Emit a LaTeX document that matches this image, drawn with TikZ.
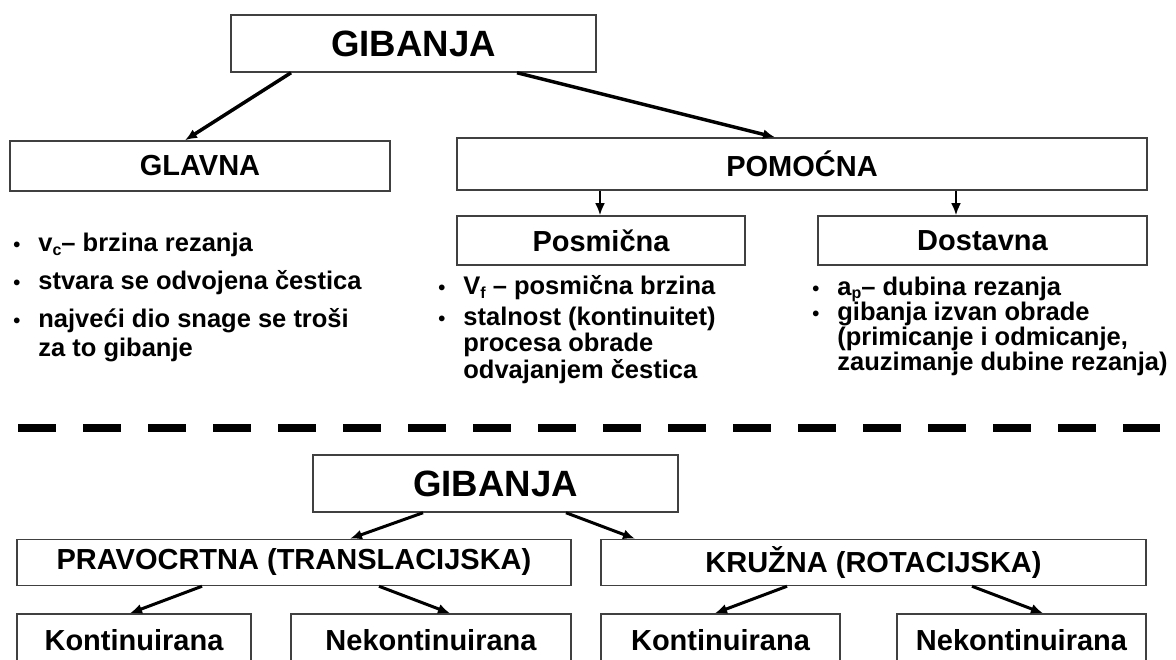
\documentclass[tikz,border=0pt]{standalone}
\usepackage{fontspec}
\setmainfont{Liberation Sans}
\usetikzlibrary{arrows.meta}

\newcommand{\blt}{\llap{{\fontsize{20}{20}\selectfont\textbullet}\hspace{18pt}}}
\newcommand{\ind}[2][-4pt]{\raisebox{#1}{\fontsize{16}{16}\selectfont #2}}

\begin{document}
\begin{tikzpicture}[x=1pt, y=-1pt, thick,
		box/.style={draw=black!75, line width=1.5pt, inner sep=0pt, font=\bfseries\fontsize{29}{34}\selectfont},
		item/.style={anchor=base west, inner sep=0pt, font=\bfseries\fontsize{25.5}{30}\selectfont},
		arr/.style={-{Latex[length=12pt,width=10pt]}, line width=3.5pt}]
	\useasboundingbox (0,0) rectangle (1176,660);
	\clip (0,0) rectangle (1176,660);

	% gornji dio
	\node[box, minimum width=365pt, minimum height=57pt] (gib) at (413.5,43.5) {\fontsize{36.6}{40}\selectfont GIBANJA};
	\node[box, minimum width=380pt, minimum height=50pt] (glavna) at (200,166) {GLAVNA};
	\node[box, minimum width=690pt, minimum height=52pt] (pomocna) at (802,164) {POMOĆNA};
	\node[box, minimum width=288pt, minimum height=49pt] (posmicna) at (601,240.5) {Posmična};
	\node[box, minimum width=329pt, minimum height=49pt] (dostavna) at (982.5,240.5) {Dostavna};

	\draw[arr] ([xshift=-122.5pt]gib.south) -- ([xshift=-15pt]glavna.north);
	\draw[arr] ([xshift=103.5pt]gib.south) -- ([xshift=-27pt]pomocna.north);
	\draw[arr, line width=2.5pt] ([xshift=-202pt]pomocna.south) -- ([xshift=-1pt]posmicna.north);
	\draw[arr, line width=2.5pt] ([xshift=154pt]pomocna.south) -- ([xshift=-26.5pt]dostavna.north);

	\node[item] (v1) at (38,252) {\blt v\ind{c}– brzina rezanja};
	\node[item] (v2) at (38,290) {\blt stvara se odvojena čestica};
	\node[item] (v3) at (38,328) {\blt najveći dio snage se troši};
	\node[item] (v4) at (38,357) {za to gibanje};

	\node[item] (p1) at (463,295) {\blt V\ind{f} – posmična brzina};
	\node[item] (p2) at (463,326) {\blt stalnost (kontinuitet)};
	\node[item] (p3) at (463,352) {procesa obrade};
	\node[item] (p4) at (463,378) {odvajanjem čestica};

	\node[item] (d1) at (837,296) {\blt a\ind[-2.5pt]{p}– dubina rezanja};
	\node[item] (d2) at (837,321) {\blt gibanja izvan obrade};
	\node[item] (d3) at (837,346) {(primicanje i odmicanje,};
	\node[item] (d4) at (837,371) {zauzimanje dubine rezanja)};

	\draw[line width=8pt, dash pattern=on 38pt off 27pt] (18,428) -- (1160,428);

	% donji dio
	\node[box, minimum width=365pt, minimum height=57pt] (gib2) at (495.5,483.5) {\fontsize{36.6}{40}\selectfont GIBANJA};
	\node[box, minimum width=554pt, minimum height=46pt] (pravo) at (294,562.5) {PRAVOCRTNA (TRANSLACIJSKA)};
	\node[box, minimum width=545pt, minimum height=46pt] (kruzna) at (873.5,562.5) {KRUŽNA (ROTACIJSKA)};
	\node[box, minimum width=234pt, minimum height=52pt] (kont1) at (134,640) {Kontinuirana};
	\node[box, minimum width=280pt, minimum height=52pt] (nek1) at (431,640) {Nekontinuirana};
	\node[box, minimum width=239pt, minimum height=52pt] (kont2) at (720.5,640) {Kontinuirana};
	\node[box, minimum width=249pt, minimum height=52pt] (nek2) at (1021.5,640) {Nekontinuirana};

	\draw[arr, line width=3pt] ([xshift=-72.5pt]gib2.south) -- ([xshift=56pt]pravo.north);
	\draw[arr, line width=3pt] ([xshift=70.5pt]gib2.south) -- ([xshift=-238.5pt]kruzna.north);
	\draw[arr, line width=3pt] ([xshift=-92pt]pravo.south) -- ([xshift=-4pt]kont1.north);
	\draw[arr, line width=3pt] ([xshift=85pt]pravo.south) -- ([xshift=19pt]nek1.north);
	\draw[arr, line width=3pt] ([xshift=-86.5pt]kruzna.south) -- ([xshift=-5.5pt]kont2.north);
	\draw[arr, line width=3pt] ([xshift=98.5pt]kruzna.south) -- ([xshift=21.5pt]nek2.north);
\end{tikzpicture}
\end{document}
